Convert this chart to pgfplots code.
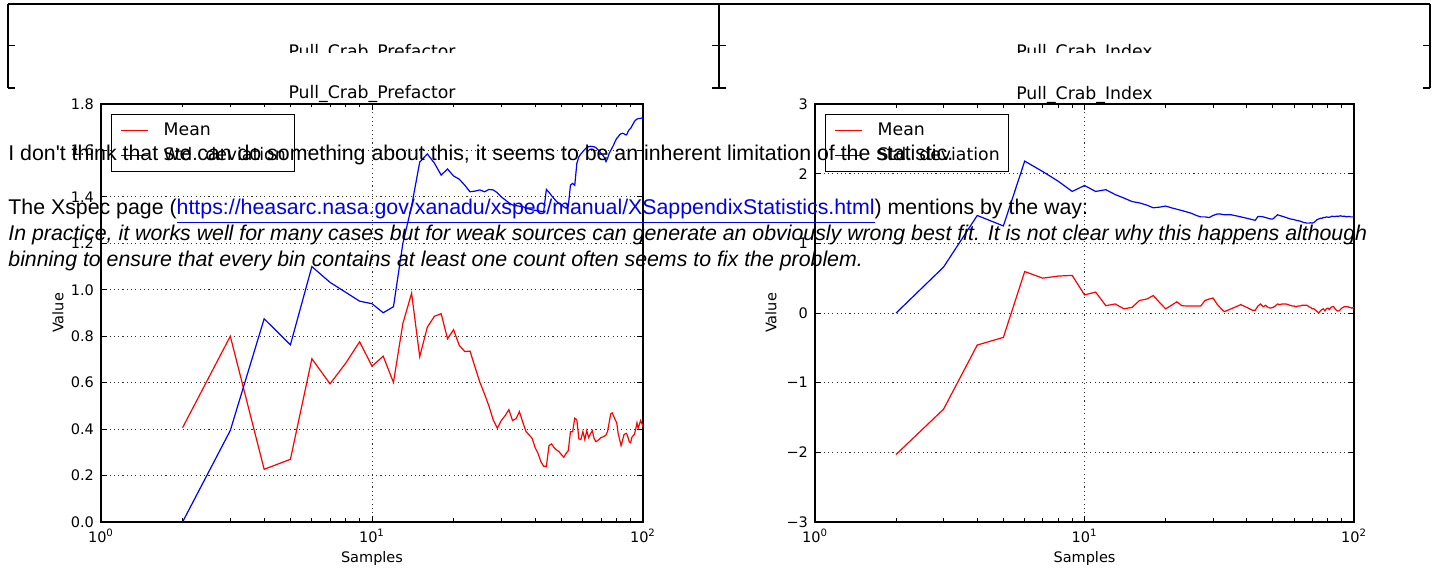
\documentclass[border=0pt]{standalone}
\usepackage{fontspec}
\setmainfont{DejaVu Sans}
\newfontfamily\ghfont{Liberation Sans}
\usepackage{pgfplots}
\usepackage{pgfplotstable}
\pgfplotsset{compat=1.18}
\definecolor{linkblue}{RGB}{0,0,238}
\definecolor{mplred}{RGB}{255,0,0}
\definecolor{mplblue}{RGB}{0,0,255}

\pgfplotstableread{
x y
2 0.406
3 0.800
4 0.227
5 0.270
6 0.703
7 0.595
8 0.684
9 0.776
10 0.671
11 0.714
12 0.601
13 0.855
14 0.985
15 0.712
16 0.839
17 0.886
18 0.897
19 0.789
20 0.828
21 0.760
22 0.734
23 0.736
24 0.667
25 0.602
26 0.552
27 0.500
28 0.440
29 0.404
30 0.437
31 0.458
32 0.484
33 0.437
34 0.445
35 0.475
36 0.430
37 0.390
38 0.375
39 0.360
40 0.320
41 0.295
42 0.260
43 0.240
44 0.240
45 0.329
46 0.336
47 0.320
48 0.310
49 0.303
50 0.290
51 0.279
52 0.295
53 0.307
54 0.389
55 0.389
56 0.447
57 0.440
58 0.358
59 0.355
60 0.389
61 0.355
62 0.393
63 0.364
64 0.380
65 0.393
66 0.360
67 0.346
68 0.350
69 0.357
70 0.364
71 0.366
72 0.370
73 0.374
74 0.390
75 0.427
76 0.465
77 0.470
78 0.455
79 0.440
80 0.427
81 0.380
82 0.355
83 0.329
84 0.350
85 0.375
86 0.380
87 0.382
88 0.365
89 0.345
90 0.341
91 0.365
92 0.372
93 0.378
94 0.400
95 0.427
96 0.404
97 0.420
98 0.437
99 0.425
100 0.410
}\leftmean

\pgfplotstableread{
x y
2 0.000
3 0.394
4 0.875
5 0.763
6 1.100
7 1.032
8 0.989
9 0.951
10 0.940
11 0.901
12 0.927
13 1.200
14 1.360
15 1.550
16 1.585
17 1.545
18 1.494
19 1.520
20 1.490
21 1.476
22 1.450
23 1.422
24 1.425
25 1.430
26 1.422
27 1.432
28 1.430
29 1.418
30 1.400
31 1.387
32 1.375
33 1.365
34 1.362
35 1.360
36 1.358
37 1.352
38 1.348
39 1.344
40 1.342
41 1.340
42 1.338
43 1.336
44 1.432
45 1.420
46 1.405
47 1.392
48 1.380
49 1.372
50 1.365
51 1.358
52 1.351
53 1.360
54 1.451
55 1.458
56 1.450
57 1.544
58 1.573
59 1.585
60 1.595
61 1.605
62 1.612
63 1.616
64 1.618
65 1.617
66 1.616
67 1.612
68 1.605
69 1.598
70 1.587
71 1.580
72 1.570
73 1.552
74 1.565
75 1.587
76 1.600
77 1.612
78 1.625
79 1.640
80 1.652
81 1.659
82 1.668
83 1.672
84 1.674
85 1.672
86 1.668
87 1.667
88 1.680
89 1.690
90 1.695
91 1.705
92 1.715
93 1.725
94 1.731
95 1.735
96 1.737
97 1.738
98 1.738
99 1.740
100 1.738
}\leftstd

\pgfplotstableread{
x y
2 -2.03
3 -1.38
4 -0.46
5 -0.35
6 0.595
7 0.50
8 0.53
9 0.54
10 0.26
11 0.30
12 0.105
13 0.13
14 0.06
15 0.08
16 0.18
17 0.20
18 0.25
19 0.15
20 0.06
21 0.11
22 0.16
23 0.105
24 0.10
25 0.10
26 0.10
27 0.10
28 0.18
29 0.20
30 0.215
31 0.13
32 0.07
33 0.02
34 0.04
35 0.06
36 0.08
37 0.10
38 0.12
39 0.10
40 0.08
41 0.06
42 0.04
43 0.04
44 0.10
45 0.13
46 0.09
47 0.11
48 0.08
49 0.07
50 0.08
51 0.10
52 0.13
53 0.12
54 0.13
55 0.13
56 0.13
57 0.12
58 0.11
59 0.10
60 0.10
61 0.09
62 0.10
63 0.10
64 0.11
65 0.11
66 0.11
67 0.11
68 0.09
69 0.08
70 0.06
71 0.06
72 0.04
73 0.02
74 0.00
75 0.03
76 0.05
77 0.06
78 0.03
79 0.06
80 0.07
81 0.05
82 0.08
83 0.09
84 0.09
85 0.06
86 0.04
87 0.03
88 0.03
89 0.05
90 0.07
91 0.08
92 0.09
93 0.09
94 0.09
95 0.09
96 0.08
97 0.08
98 0.07
99 0.075
100 0.075
}\rightmean

\pgfplotstableread{
x y
2 0.00
3 0.66
4 1.40
5 1.25
6 2.18
7 2.03
8 1.89
9 1.745
10 1.83
11 1.745
12 1.77
13 1.70
14 1.65
15 1.60
16 1.58
17 1.55
18 1.51
19 1.52
20 1.535
21 1.51
22 1.49
23 1.47
24 1.45
25 1.43
26 1.40
27 1.38
28 1.38
29 1.37
30 1.40
31 1.42
32 1.42
33 1.41
34 1.41
35 1.41
36 1.40
37 1.39
38 1.38
39 1.37
40 1.36
41 1.35
42 1.34
43 1.33
44 1.385
45 1.385
46 1.38
47 1.37
48 1.36
49 1.35
50 1.35
51 1.38
52 1.41
53 1.40
54 1.39
55 1.38
56 1.37
57 1.36
58 1.35
59 1.345
60 1.34
61 1.33
62 1.325
63 1.32
64 1.31
65 1.30
66 1.295
67 1.29
68 1.29
69 1.295
70 1.29
71 1.30
72 1.32
73 1.34
74 1.35
75 1.36
76 1.36
77 1.37
78 1.37
79 1.38
80 1.375
81 1.375
82 1.38
83 1.39
84 1.385
85 1.385
86 1.39
87 1.39
88 1.39
89 1.395
90 1.39
91 1.39
92 1.39
93 1.385
94 1.38
95 1.385
96 1.385
97 1.38
98 1.38
99 1.38
100 1.38
}\rightstd

\pgfplotsset{
  mplaxis/.style={
    scale only axis,
    height=209pt,
    xmin=1, xmax=100,
    xtick={1,10,100},
    xticklabels={10\textsuperscript{0},10\textsuperscript{1},10\textsuperscript{2}},
    minor xtick={2,3,4,5,6,7,8,9,20,30,40,50,60,70,80,90},
    tick align=inside,
    major tick length=3pt,
    minor tick length=1.75pt,
    every tick/.style={black, line width=0.5pt},
    axis line style={line width=0.65pt},
    grid=major,
    major grid style={black!80, line width=0.45pt, dash pattern=on 0.55pt off 1.6pt},
    tick label style={font=\fontsize{7.25}{8.5}\selectfont},
    every axis title/.style={at={(0.5,1)}, anchor=base, yshift=2.5pt, font=\fontsize{8.65}{10}\selectfont},
    every axis x label/.style={at={(axis description cs:0.5,-0.088)}, anchor=center, font=\fontsize{7.25}{8.5}\selectfont},
    xlabel={Samples},
    ylabel={Value},
    legend cell align=left,
    legend image code/.code={\draw[##1] (0pt,0pt) -- (13.5pt,0pt);},
    legend style={font=\fontsize{8.65}{10}\selectfont, draw=black, line width=0.5pt,
      inner xsep=4.5pt, inner ysep=1.75pt, anchor=north west,
      nodes={inner xsep=0pt, inner ysep=2.2pt, text height=6.3pt, text depth=1.8pt},
      /tikz/every odd column/.append style={column sep=7.5pt}},
  },
  meanstyle/.style={mplred, line width=0.6pt},
  stdstyle/.style={mplblue, line width=0.6pt},
}

\begin{document}
\begin{tikzpicture}
\path[use as bounding box] (0pt,0pt) rectangle (718.5pt,-285.5pt);

% clipped duplicate frame at the top
\draw[line width=0.65pt] (4pt,-2pt) -- (715pt,-2pt);
\draw[line width=0.65pt] (4pt,-2pt) -- (4pt,-44pt);
\draw[line width=0.65pt] (359.5pt,-2pt) -- (359.5pt,-44pt);
\draw[line width=0.65pt] (715pt,-2pt) -- (715pt,-44pt);
\foreach \yy in {-22.85pt,-44pt}{
  \draw[line width=0.65pt] (4pt,\yy) -- (7.5pt,\yy);
  \draw[line width=0.65pt] (356pt,\yy) -- (363pt,\yy);
  \draw[line width=0.65pt] (711.5pt,\yy) -- (715pt,\yy);
}
\begin{scope}
\clip (0pt,-18pt) rectangle (718.5pt,-26.5pt);
\node[anchor=base, inner sep=0pt, font=\fontsize{8.65}{10}\selectfont] at (186pt,-28.75pt) {Pull\_Crab\_Prefactor};
\node[anchor=base, inner sep=0pt, font=\fontsize{8.65}{10}\selectfont] at (542.25pt,-28.75pt) {Pull\_Crab\_Index};
\end{scope}

\begin{semilogxaxis}[mplaxis,
  at={(50.5pt,-261pt)}, anchor=south west,
  width=271pt,
  ymin=0, ymax=1.8,
  ytick={0,0.2,0.4,0.6,0.8,1.0,1.2,1.4,1.6,1.8},
  yticklabels={0.0,0.2,0.4,0.6,0.8,1.0,1.2,1.4,1.6,1.8},
  every axis y label/.style={at={(axis description cs:-0.0793,0.5)}, rotate=90, anchor=center, font=\fontsize{7.25}{8.5}\selectfont},
  title={Pull\_Crab\_Prefactor},
  legend style={at={(axis description cs:0.0185,0.976)}},
]
\addplot[meanstyle] table[x=x,y=y] {\leftmean};
\addlegendentry{Mean}
\addplot[stdstyle] table[x=x,y=y] {\leftstd};
\addlegendentry{Std. deviation}
\end{semilogxaxis}

\begin{semilogxaxis}[mplaxis,
  at={(407.5pt,-261pt)}, anchor=south west,
  width=269.5pt,
  ymin=-3, ymax=3,
  ytick={-3,-2,-1,0,1,2,3},
  yticklabels={−3,−2,−1,0,1,2,3},
  every axis y label/.style={at={(axis description cs:-0.0816,0.5)}, rotate=90, anchor=center, font=\fontsize{7.25}{8.5}\selectfont},
  title={Pull\_Crab\_Index},
  legend style={at={(axis description cs:0.0186,0.976)}},
]
\addplot[meanstyle] table[x=x,y=y] {\rightmean};
\addlegendentry{Mean}
\addplot[stdstyle] table[x=x,y=y] {\rightstd};
\addlegendentry{Std. deviation}
\end{semilogxaxis}

% overlaid comment text
\begin{scope}[every node/.style={anchor=base west, inner sep=0pt, font=\ghfont\fontsize{10.66}{14}\selectfont}]
\node at (4pt,-80.5pt) {I don't think that we can do something about this, it seems to be an inherent limitation of the statistic.};
\node at (4pt,-107.5pt) {The Xspec page (\textcolor{linkblue}{\underline{https://heasarc.nasa.gov/xanadu/xspec/manual/XSappendixStatistics.html}}) mentions by the way:};
\node at (4pt,-120.25pt) {\itshape In practice, it works well for many cases but for weak sources can generate an obviously wrong best fit. It is not clear why this happens although};
\node at (4pt,-133.5pt) {\itshape binning to ensure that every bin contains at least one count often seems to fix the problem.};
\end{scope}
\end{tikzpicture}
\end{document}
